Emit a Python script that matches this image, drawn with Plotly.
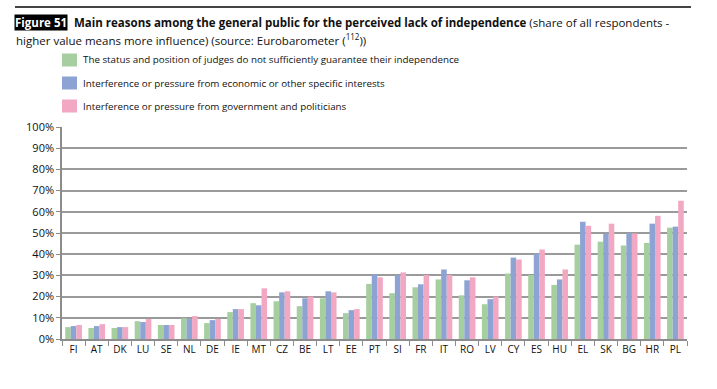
import plotly.graph_objects as go

countries = ["FI", "AT", "DK", "LU", "SE", "NL", "DE", "IE", "MT", "CZ", "BE", "LT", "EE",
             "PT", "SI", "FR", "IT", "RO", "LV", "CY", "ES", "HU", "EL", "SK", "BG", "HR", "PL"]

status_judges = [5.6, 5.2, 5.2, 8.4, 6.6, 9.8, 7.5, 12.7, 16.9, 17.8, 15.5, 19.2, 12.2,
                 26.0, 21.6, 24.4, 28.1, 20.6, 16.4, 30.9, 30.2, 25.5, 44.5, 45.9, 44.1, 45.3, 52.5]
economic = [6.1, 6.1, 5.6, 8.0, 6.6, 9.4, 8.9, 14.1, 15.9, 22.0, 19.2, 22.5, 13.6,
            30.5, 30.2, 25.8, 32.8, 27.7, 18.8, 38.4, 40.2, 28.1, 55.3, 49.7, 50.0, 54.4, 53.0]
government = [6.6, 7.0, 5.6, 9.4, 6.6, 10.8, 9.4, 14.1, 23.9, 22.5, 20.0, 22.0, 14.1,
              29.1, 31.4, 30.2, 30.2, 29.1, 20.0, 37.5, 42.2, 32.8, 53.4, 54.4, 49.8, 58.1, 65.2]

series_names = ["The status and position of judges do not sufficiently guarantee their independence",
                "Interference or pressure from economic or other specific interests",
                "Interference or pressure from government and politicians"]
series_values = [status_judges, economic, government]
colors = ["#A6CFA0", "#8DA3D3", "#F2A7C2"]

y_ticks = list(range(0, 101, 10))
y_tick_labels = [f"{v}%" for v in y_ticks]

W, H = 717, 389
L, R, T, B = 62, 30, 127, 50
pw, ph = W - L - R, H - T - B

def px(x):
    return (x - L) / pw

def py(y):
    return (H - B - y) / ph

fig = go.Figure()
for name, vals, c in zip(series_names, series_values, colors):
    fig.add_trace(go.Bar(x=countries, y=vals, name=name, marker=dict(color=c, line=dict(width=0)),
                         showlegend=False))

font_family = "Open Sans, DejaVu Sans, sans-serif"

annotations = []
shapes = []
# top rule
shapes.append(dict(type="line", xref="paper", yref="paper", x0=px(15), x1=px(691), y0=py(7), y1=py(7),
                   line=dict(color="#444444", width=2)))
# Figure label
annotations.append(dict(xref="paper", yref="paper", x=px(14), y=py(22), xanchor="left", yanchor="middle",
                        text="<b>Figure 51</b>", showarrow=False, bgcolor="#000000", borderpad=0,
                        font=dict(family=font_family, size=11.5, color="#ffffff")))
annotations.append(dict(xref="paper", yref="paper", x=px(72), y=py(22), xanchor="left", yanchor="middle",
                        text="<b>Main reasons among the general public for the perceived lack of independence</b> (share of all respondents -",
                        showarrow=False, font=dict(family=font_family, size=11.5, color="#111111")))
annotations.append(dict(xref="paper", yref="paper", x=px(14), y=py(40), xanchor="left", yanchor="middle",
                        text="higher value means more influence) (source: Eurobarometer (<sup>112</sup>))",
                        showarrow=False, font=dict(family=font_family, size=11.5, color="#111111")))
# legend
legend_rows = [60, 83, 106]
for name, c, yr in zip(series_names, colors, legend_rows):
    shapes.append(dict(type="rect", xref="paper", yref="paper", x0=px(62), x1=px(77),
                       y0=py(yr + 6.5), y1=py(yr - 6.5), fillcolor=c, line=dict(width=0)))
    annotations.append(dict(xref="paper", yref="paper", x=px(81), y=py(yr), xanchor="left", yanchor="middle",
                            text=name, showarrow=False, font=dict(family=font_family, size=9.8, color="#111111")))

fig.update_layout(
    width=W, height=H,
    margin=dict(l=L, r=R, t=T, b=B, autoexpand=False),
    paper_bgcolor="#ffffff", plot_bgcolor="#ffffff",
    barmode="group", bargap=0.28, bargroupgap=0,
    font=dict(family=font_family, color="#111111"),
    shapes=shapes, annotations=annotations,
    showlegend=False,
)
fig.update_yaxes(range=[0, 100], tickvals=y_ticks, ticktext=y_tick_labels,
                 showgrid=True, gridcolor="#9a9a9a", gridwidth=1.5,
                 showline=True, linecolor="#8c8c8c", linewidth=1.5,
                 ticks="outside", ticklen=4, tickcolor="#8c8c8c",
                 tickfont=dict(size=11, color="#111111"), zeroline=False)
fig.update_xaxes(showline=True, linecolor="#8c8c8c", linewidth=1.5, tickangle=0,
                 ticks="outside", tickson="boundaries", ticklen=5, tickcolor="#8c8c8c",
                 tickfont=dict(size=10, color="#111111"), showgrid=False)

fig.write_html("out.html", config={"displayModeBar": False},
               post_script="document.body.style.margin='0px';")
